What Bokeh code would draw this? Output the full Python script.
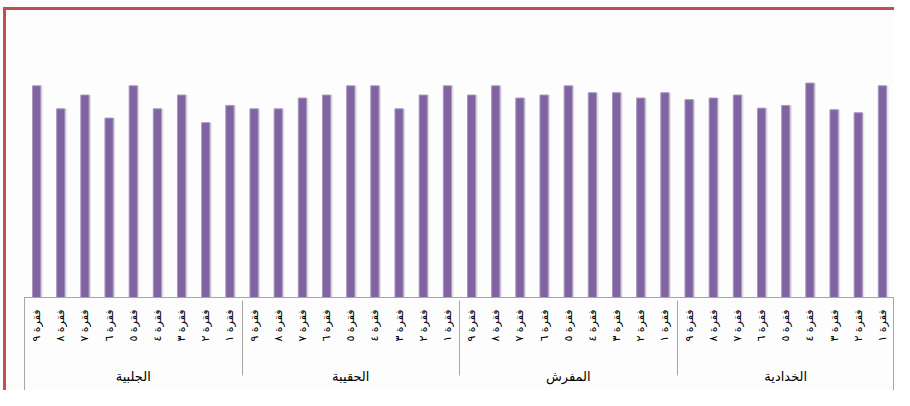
from math import pi
from bokeh.plotting import figure
from bokeh.models import FactorRange, Range1d, ColumnDataSource
from bokeh.transform import dodge
from bokeh.embed import file_html
from bokeh.resources import INLINE

groups = ["الجلبية", "الحقيبة", "المفرش", "الخدادية"]
items = ["فقرة ٩", "فقرة ٨", "فقرة ٧", "فقرة ٦", "فقرة ٥", "فقرة ٤", "فقرة ٣", "فقرة ٢", "فقرة ١"]

g1 = [92, 82, 88, 78, 92, 82, 88, 76, 83.5]
g2 = [82, 82, 86.7, 88, 92, 92, 82, 88, 92]
g3 = [88, 92, 86.7, 88, 92, 89, 89, 86.7, 89]
g4 = [86, 86.7, 88, 82.3, 83.5, 93.2, 81.6, 80.3, 92]

values = g1 + g2 + g3 + g4
# leading line break pushes the group row down, as in the original
group_names = ["\n" + g for g in groups]
factors = [(g, it) for g in group_names for it in items]

src = ColumnDataSource(dict(x=factors, top=values))

p = figure(
    x_range=FactorRange(*factors, range_padding=0, group_padding=0,
                        subgroup_padding=0, factor_padding=0),
    y_range=Range1d(0, 120.4),
    width=894, height=390,
    output_backend="svg", toolbar_location=None,
    min_border_left=24, min_border_right=0, min_border_top=20,
    min_border_bottom=93,
    background_fill_color="#FDFDFD", border_fill_color="#FDFDFD",
    border_fill_alpha=0.0,
)
p.outline_line_color = None
red = "linear-gradient(#C0504D,#C0504D)"
grey = "linear-gradient(#A6A6A6,#A6A6A6)"
p.styles = {
    "background-color": "#FDFDFD",
    "background-image": ", ".join([red, red, grey, grey]),
    "background-size": "891px 3px, 3px 383px, 1px 93px, 1px 93px",
    "background-position": "3px 7px, 3px 7px, 24px 297px, 893px 297px",
    "background-repeat": "no-repeat",
}

p.vbar(x=dodge("x", 0.05, range=p.x_range), top="top", source=src, width=0.40,
       fill_color="#BFBFBF", fill_alpha=0.45, line_color=None)
p.vbar(x="x", top="top", source=src, width=0.34,
       fill_color="#8064A2", line_color="#A996C4", line_width=1)

p.xgrid.grid_line_color = None
p.ygrid.grid_line_color = None
p.yaxis.visible = False

ax = p.xaxis[0]
ax.axis_line_color = "#A6A6A6"
ax.major_tick_line_color = None
ax.minor_tick_line_color = None
ax.major_label_orientation = pi / 2
ax.major_label_standoff = 6
ax.major_label_text_font = "DejaVu Sans"
ax.major_label_text_font_size = "11px"
ax.major_label_text_color = "#000000"
ax.group_text_font = "DejaVu Sans"
ax.group_text_font_size = "13px"
ax.group_text_font_style = "normal"
ax.group_text_line_height = 1.25
ax.group_text_color = "#000000"
ax.separator_line_color = "#A6A6A6"
ax.separator_line_width = 1

open("out.html", "w").write(file_html(p, INLINE))
